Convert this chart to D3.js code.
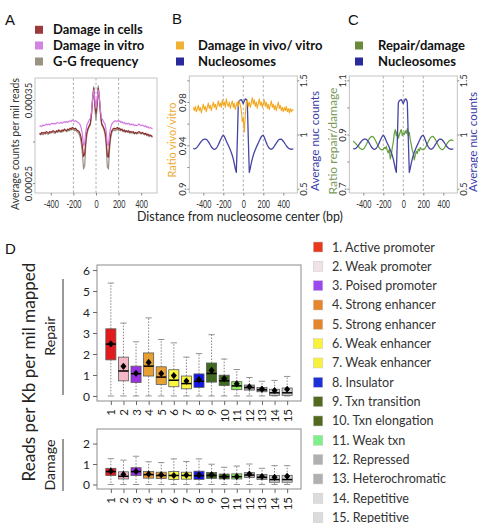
<!DOCTYPE html>
<html>
<head>
<meta charset="utf-8">
<script src="https://cdn.jsdelivr.net/npm/d3@7/dist/d3.min.js"></script>
<style>
html,body{margin:0;padding:0;background:#fff;}
svg{display:block;}
</style>
</head>
<body>
<svg id="fig" width="478" height="523" xmlns="http://www.w3.org/2000/svg"></svg>
<script>
// ---------------- DATA ----------------
const positions = [-500,-490,-480,-470,-460,-450,-440,-430,-420,-410,
  -400,-390,-380,-370,-360,-350,-340,-330,-320,-310,
  -300,-290,-280,-270,-260,-250,-240,-230,-220,-210,
  -200,-190,-180,-170,-160,-150,-140,-130,-120,-110,
  -100,-90,-80,-70,-60,-50,-40,-30,-20,-10,
  0,10,20,30,40,50,60,70,80,90,
  100,110,120,130,140,150,160,170,180,190,
  200,210,220,230,240,250,260,270,280,290,
  300,310,320,330,340,350,360,370,380,390,
  400,410,420,430,440,450,460,470,480,490,500];

const damageInVitro = [0.000318,0.000319,0.000318,0.000320,0.000319,0.000320,0.000321,0.000320,0.000321,0.000320,
  0.000321,0.000322,0.000321,0.000322,0.000321,0.000322,0.000323,0.000322,0.000322,0.000323,
  0.000322,0.000323,0.000324,0.000323,0.000324,0.000323,0.000324,0.000325,0.000324,0.000326,
  0.000325,0.000324,0.000325,0.000324,0.000323,0.000322,0.000320,0.000316,0.000308,0.000295,
  0.000298,0.000312,0.000320,0.000323,0.000326,0.000328,0.000336,0.000352,0.000362,0.000350,
  0.000340,0.000351,0.000362,0.000353,0.000337,0.000328,0.000326,0.000323,0.000321,0.000313,
  0.000297,0.000295,0.000309,0.000317,0.000321,0.000323,0.000324,0.000325,0.000324,0.000325,
  0.000324,0.000325,0.000323,0.000324,0.000322,0.000323,0.000321,0.000322,0.000321,0.000322,
  0.000320,0.000321,0.000320,0.000321,0.000319,0.000320,0.000319,0.000320,0.000321,0.000320,
  0.000319,0.000320,0.000319,0.000318,0.000319,0.000317,0.000318,0.000316,0.000317,0.000316,0.000315];

const damageInCells = [0.000310,0.000309,0.000311,0.000310,0.000311,0.000310,0.000312,0.000311,0.000310,0.000312,
  0.000311,0.000312,0.000313,0.000312,0.000311,0.000313,0.000312,0.000314,0.000313,0.000312,
  0.000314,0.000313,0.000315,0.000314,0.000313,0.000315,0.000314,0.000316,0.000315,0.000317,
  0.000316,0.000315,0.000316,0.000314,0.000313,0.000312,0.000309,0.000304,0.000294,0.000282,
  0.000285,0.000302,0.000312,0.000316,0.000319,0.000322,0.000333,0.000350,0.000364,0.000345,
  0.000334,0.000346,0.000364,0.000351,0.000334,0.000322,0.000319,0.000316,0.000312,0.000302,
  0.000283,0.000281,0.000298,0.000308,0.000313,0.000315,0.000316,0.000315,0.000316,0.000317,
  0.000315,0.000316,0.000314,0.000315,0.000313,0.000314,0.000312,0.000313,0.000312,0.000313,
  0.000311,0.000312,0.000311,0.000312,0.000310,0.000311,0.000310,0.000311,0.000312,0.000311,
  0.000310,0.000311,0.000310,0.000309,0.000310,0.000308,0.000309,0.000307,0.000308,0.000307,0.000306];

const ggFrequency = [0.000309,0.000308,0.000309,0.000308,0.000310,0.000309,0.000310,0.000309,0.000309,0.000311,
  0.000310,0.000311,0.000311,0.000310,0.000310,0.000312,0.000311,0.000312,0.000312,0.000311,
  0.000312,0.000312,0.000313,0.000313,0.000312,0.000313,0.000313,0.000314,0.000314,0.000315,
  0.000314,0.000313,0.000314,0.000312,0.000311,0.000309,0.000305,0.000298,0.000285,0.000267,
  0.000271,0.000296,0.000309,0.000314,0.000318,0.000320,0.000332,0.000352,0.000366,0.000340,
  0.000326,0.000342,0.000367,0.000352,0.000332,0.000320,0.000318,0.000314,0.000309,0.000296,
  0.000270,0.000267,0.000290,0.000304,0.000311,0.000313,0.000314,0.000313,0.000314,0.000315,
  0.000313,0.000314,0.000313,0.000313,0.000312,0.000312,0.000311,0.000312,0.000311,0.000311,
  0.000310,0.000311,0.000310,0.000310,0.000309,0.000310,0.000309,0.000310,0.000310,0.000310,
  0.000309,0.000310,0.000309,0.000308,0.000309,0.000307,0.000308,0.000306,0.000307,0.000306,0.000305];

const vivoVitroRatio = [0.975,0.972,0.976,0.971,0.974,0.977,0.972,0.975,0.970,0.974,
  0.978,0.973,0.976,0.971,0.975,0.979,0.974,0.977,0.972,0.976,
  0.980,0.975,0.978,0.973,0.977,0.981,0.976,0.979,0.975,0.982,
  0.977,0.980,0.975,0.983,0.978,0.976,0.980,0.974,0.978,0.981,
  0.975,0.979,0.973,0.977,0.980,0.976,0.981,0.977,0.972,0.962,
  0.965,0.952,0.968,0.980,0.982,0.976,0.980,0.975,0.979,0.984,
  0.978,0.982,0.976,0.980,0.974,0.979,0.983,0.977,0.980,0.975,
  0.979,0.982,0.976,0.980,0.974,0.978,0.973,0.977,0.981,0.975,
  0.978,0.973,0.977,0.972,0.976,0.980,0.974,0.977,0.972,0.975,
  0.971,0.975,0.972,0.976,0.971,0.974,0.970,0.974,0.971,0.973,0.972];

const nucleosomeCounts = [0.872,0.868,0.870,0.876,0.886,0.898,0.911,0.924,0.936,0.946,
  0.953,0.957,0.958,0.955,0.947,0.935,0.920,0.903,0.887,0.875,
  0.867,0.863,0.865,0.873,0.887,0.905,0.925,0.946,0.966,0.984,
  0.994,0.982,0.962,0.940,0.920,0.900,0.880,0.858,0.834,0.806,
  0.772,0.730,0.685,0.650,0.930,1.290,1.312,1.318,1.322,1.305,
  1.285,1.310,1.328,1.325,1.300,0.960,0.650,0.690,0.735,0.775,
  0.808,0.836,0.860,0.882,0.902,0.922,0.942,0.962,0.980,0.990,
  0.993,0.975,0.950,0.925,0.903,0.886,0.873,0.866,0.864,0.869,
  0.878,0.891,0.906,0.920,0.935,0.947,0.955,0.958,0.956,0.949,
  0.938,0.925,0.910,0.896,0.884,0.875,0.869,0.865,0.864,0.865,0.867];

const repairDamageRatio = [0.876,0.872,0.868,0.864,0.860,0.856,0.852,0.848,0.846,0.845,
  0.846,0.850,0.856,0.863,0.871,0.878,0.885,0.889,0.892,0.893,
  0.891,0.886,0.879,0.871,0.863,0.856,0.850,0.846,0.844,0.843,
  0.846,0.852,0.848,0.856,0.840,0.832,0.845,0.810,0.826,0.852,
  0.872,0.905,0.918,0.895,0.912,0.886,0.898,0.910,0.918,0.896,
  0.905,0.900,0.914,0.904,0.922,0.896,0.908,0.880,0.862,0.842,
  0.830,0.806,0.824,0.838,0.830,0.846,0.840,0.852,0.846,0.845,
  0.844,0.846,0.851,0.858,0.866,0.874,0.881,0.887,0.891,0.893,
  0.892,0.888,0.882,0.875,0.867,0.860,0.853,0.848,0.845,0.844,
  0.846,0.850,0.856,0.862,0.868,0.873,0.877,0.879,0.880,0.879,0.877];

const xTickValues = [-400, -200, 0, 200, 400];
const guideLines = [-200, 0, 200];

const stateIds = [1,2,3,4,5,6,7,8,9,10,11,12,13,14,15];
const stateNames = ["1. Active promoter","2. Weak promoter","3. Poised promoter","4. Strong enhancer",
  "5. Strong enhancer","6. Weak enhancer","7. Weak enhancer","8. Insulator","9. Txn transition",
  "10. Txn elongation","11. Weak txn","12. Repressed","13. Heterochromatic","14. Repetitive","15. Repetitive"];

const repairLower  = [0,0,0,0,0,0,0,0,0,0,0,0,0,0,0];
const repairQ1     = [1.72,0.72,0.64,0.95,0.55,0.44,0.34,0.41,0.66,0.50,0.30,0.28,0.20,0.03,0.03];
const repairMedian = [2.47,1.19,1.06,1.42,0.90,0.75,0.59,0.70,1.07,0.72,0.48,0.40,0.29,0.15,0.15];
const repairQ3     = [3.20,1.85,1.42,2.05,1.39,1.25,0.95,1.05,1.57,0.99,0.68,0.52,0.40,0.32,0.38];
const repairUpper  = [5.38,3.47,2.58,3.72,2.69,2.53,1.85,2.02,2.92,1.76,1.26,0.88,0.70,0.74,0.93];
const repairMean   = [2.48,1.41,1.08,1.60,1.07,0.97,0.71,0.78,1.22,0.83,0.58,0.44,0.33,0.26,0.32];

const damageLower  = [0,0,0,0,0,0,0,0,0,0,0,0,0,0,0];
const damageQ1     = [0.44,0.27,0.44,0.31,0.29,0.24,0.26,0.25,0.30,0.27,0.27,0.34,0.25,0.11,0.11];
const damageMedian = [0.63,0.40,0.63,0.48,0.44,0.44,0.44,0.43,0.44,0.38,0.38,0.46,0.35,0.24,0.24];
const damageQ3     = [0.79,0.62,0.82,0.64,0.60,0.63,0.60,0.65,0.59,0.51,0.52,0.58,0.49,0.44,0.45];
const damageUpper  = [1.26,1.19,1.38,1.11,1.07,1.25,1.12,1.25,0.99,0.84,0.90,1.00,0.79,0.92,0.92];
const damageMean   = [0.65,0.49,0.64,0.51,0.47,0.44,0.46,0.46,0.47,0.39,0.39,0.51,0.39,0.35,0.40];

const repairTicks = [0,1,2,3,4,5,6];
const damageTicks = [0,1,2];

// ---------------- STYLE ----------------
const boxColors = ['#e31a1c','#f4b8c8','#9a32e2','#e9a033','#e9a033','#fbf741','#fbf741','#1515e8',
  '#3f6b1e','#3f6b1e','#8ff05c','#a9a9a9','#a9a9a9','#d2d2d2','#d2d2d2'];
const legendColors = ['#e8391c','#f0e2e5','#9b48f0','#e5862c','#e5862c','#f8f23e','#f8f23e','#1c30d8',
  '#52691e','#52691e','#7ef08a','#b0b0b0','#b0b0b0','#dcdcdc','#dcdcdc'];

const LATO = "Lato, 'Open Sans', 'Liberation Sans', sans-serif";
const ARIAL = "'Liberation Sans', Arial, Helvetica, sans-serif";
const svg = d3.select('#fig');

function fitWidth(sel, target) {
  const w = sel.node().getComputedTextLength();
  const fs = parseFloat(sel.attr('font-size'));
  const nfs = fs * target / w;
  sel.attr('font-size', nfs.toFixed(2));
  return nfs;
}
function rotatedLabel(text, cx, cy, size, color, target) {
  const t = svg.append('text').attr('transform', `translate(${cx},${cy}) rotate(-90)`)
    .attr('text-anchor', 'middle').attr('dy', '0.35em')
    .attr('font-family', LATO).attr('font-size', size).attr('fill', color).text(text);
  if (target) fitWidth(t, target);
  return t;
}

// ---------------- PROFILE PANELS (A, B, C) ----------------
function profilePanel(p) {
  const g = svg.append('g');
  const x = d3.scaleLinear().domain([-540, 540]).range([p.left, p.right]);
  const yL = d3.scaleLinear().domain(p.leftDomain).range([p.bottom, p.top]);
  const yR = p.rightDomain ? d3.scaleLinear().domain(p.rightDomain).range([p.bottom, p.top]) : null;

  g.selectAll('line.guide').data(guideLines).join('line').attr('class', 'guide')
    .attr('x1', d => x(d)).attr('x2', d => x(d)).attr('y1', p.top).attr('y2', p.bottom)
    .attr('stroke', '#9a9a9a').attr('stroke-width', 0.8).attr('stroke-dasharray', '2.5,2');

  p.series.forEach(s => {
    const ys = s.right ? yR : yL;
    const line = d3.line().x((d, i) => x(positions[i])).y(d => ys(d));
    g.append('path').datum(s.values).attr('d', line).attr('fill', 'none')
      .attr('stroke', s.color).attr('stroke-width', s.width).attr('stroke-linejoin', 'round');
  });

  g.append('rect').attr('x', p.left).attr('y', p.top)
    .attr('width', p.right - p.left).attr('height', p.bottom - p.top)
    .attr('fill', 'none').attr('stroke', '#bdbdbd').attr('stroke-width', 0.9);

  const xa = g.append('g').attr('transform', `translate(0,${p.bottom})`)
    .call(d3.axisBottom(x).tickValues(xTickValues).tickSize(2.5).tickFormat(d => String(d)));
  xa.select('.domain').remove();
  xa.selectAll('line').attr('stroke', '#8a8a8a');
  xa.selectAll('text').attr('y', 15).attr('dy', 0).attr('font-family', LATO).attr('font-size', 10.5)
    .attr('fill', '#333').attr('transform', 'scale(0.68,1)');

  const la = g.append('g').attr('transform', `translate(${p.left},0)`)
    .call(d3.axisLeft(yL).tickValues(p.leftTicks).tickSize(2)
      .tickFormat(d => p.leftLabels[p.leftTicks.indexOf(d)]));
  la.select('.domain').remove();
  la.selectAll('line').attr('stroke', '#8a8a8a');
  la.selectAll('text').attr('transform', 'rotate(-90)').attr('x', 0).attr('y', -3).attr('dy', 0)
    .attr('text-anchor', 'middle').attr('font-family', LATO).attr('font-size', 9.5).attr('fill', '#333');

  if (yR) {
    const ra = g.append('g').attr('transform', `translate(${p.right},0)`)
      .call(d3.axisRight(yR).tickValues(p.rightTicks).tickSize(2)
        .tickFormat(d => p.rightLabels[p.rightTicks.indexOf(d)]));
    ra.select('.domain').remove();
    ra.selectAll('line').attr('stroke', '#8a8a8a');
    ra.selectAll('text').attr('transform', 'rotate(-90)').attr('x', 0).attr('y', 10).attr('dy', 0)
      .attr('text-anchor', 'middle').attr('font-family', LATO).attr('font-size', 9.5).attr('fill', '#333');
  }
}

const cCells = '#8f2d2d', cVitro = '#d47ce2', cGG = '#978f83';
const cVivo = '#f2a922', cNuc = '#4545a5', cRep = '#64a03a';

profilePanel({
  left: 35, right: 157, top: 78, bottom: 193,
  leftDomain: [0.000238, 0.0003765],
  leftTicks: [0.00025, 0.0003, 0.00035], leftLabels: ['0.00025', '', '0.00035'],
  series: [
    { values: ggFrequency, color: cGG, width: 1.2 },
    { values: damageInCells, color: cCells, width: 1.2 },
    { values: damageInVitro, color: cVitro, width: 1.2 }
  ]
});
profilePanel({
  left: 189.3, right: 297.3, top: 76, bottom: 193,
  leftDomain: [0.896, 1.004],
  leftTicks: [0.9, 0.92, 0.94, 0.96, 0.98, 1.0], leftLabels: ['0.9', '', '0.94', '', '0.98', ''],
  rightDomain: [0.46, 1.54], rightTicks: [0.5, 1, 1.5], rightLabels: ['0.5', '1', '1.5'],
  series: [
    { values: nucleosomeCounts, color: cNuc, width: 1.3, right: true },
    { values: vivoVitroRatio, color: cVivo, width: 1.1 }
  ]
});
profilePanel({
  left: 349.3, right: 457.3, top: 76, bottom: 193,
  leftDomain: [0.684, 1.116],
  leftTicks: [0.7, 0.8, 0.9, 1.0, 1.1], leftLabels: ['0.7', '', '0.9', '', '1.1'],
  rightDomain: [0.46, 1.54], rightTicks: [0.5, 1, 1.5], rightLabels: ['0.5', '1', '1.5'],
  series: [
    { values: repairDamageRatio, color: cRep, width: 1.2 },
    { values: nucleosomeCounts, color: cNuc, width: 1.3, right: true }
  ]
});

// axis titles (top)
rotatedLabel('Average counts per mil reads', 15, 144, 10, '#333', 132);
rotatedLabel('Ratio vivo/vitro', 172, 140, 10, '#eea92c', 75);
rotatedLabel('Average nuc counts', 315, 141, 11, '#3c3ca8', 100);
rotatedLabel('Ratio repair/damage', 333, 141, 11, '#7a9a5a', 107);
rotatedLabel('Average nuc counts', 472.5, 142, 11, '#3c3ca8', 100);

const xt = svg.append('text').attr('x', 240).attr('y', 221).attr('text-anchor', 'middle')
  .attr('font-family', LATO).attr('font-size', 12).attr('fill', '#222')
  .text('Distance from nucleosome center (bp)');
fitWidth(xt, 206);

// legends top
const topLegends = [
  { x: 35, tx: 53, fit: 98, rows: [['Damage in cells', '#9c3a3a', 34.3], ['Damage in vitro', '#d384e3', 50], ['G-G frequency', '#9c9282', 66]] },
  { x: 176, tx: 198, fit: 148, rows: [['Damage in vivo/ vitro', '#f0b232', 50], ['Nucleosomes', '#2a2a9c', 66]] },
  { x: 355, tx: 378, fit: null, rows: [['Repair/damage', '#6b8a3a', 50], ['Nucleosomes', '#2a2a9c', 66]] }
];
let lastLegSize = 12;
topLegends.forEach(L => {
  let size = lastLegSize;
  if (L.fit) {
    const ref = svg.append('text').attr('font-family', LATO).attr('font-weight', 700)
      .attr('font-size', 13).text(L.rows[0][0]);
    size = Math.min(13, fitWidth(ref, L.fit));
    ref.remove();
    lastLegSize = size;
  }
  L.rows.forEach(r => {
    svg.append('rect').attr('x', L.x).attr('y', r[2] - 8.5).attr('width', 8).attr('height', 8).attr('fill', r[1]);
    svg.append('text').attr('x', L.tx).attr('y', r[2]).attr('font-family', LATO).attr('font-weight', 700)
      .attr('font-size', size.toFixed(2)).attr('fill', '#111').text(r[0]);
  });
});

// panel letters
[['A', 5, 24.5], ['B', 172, 24], ['C', 348, 25], ['D', 5, 254]].forEach(l => {
  svg.append('text').attr('x', l[1]).attr('y', l[2]).attr('font-family', ARIAL)
    .attr('font-size', 15).attr('fill', '#111').text(l[0]);
});

// ---------------- BOX PANELS (D) ----------------
function boxPanel(p) {
  const g = svg.append('g');
  const x = d3.scaleLinear().domain([-0.1, 16.1]).range([97, 301]);
  const y = d3.scaleLinear().domain(p.domain).range([p.bottom, p.top]);
  const bw = x(0.4) - x(0);
  const cw = x(0.25) - x(0);

  g.append('rect').attr('x', 97).attr('y', p.top).attr('width', 204).attr('height', p.bottom - p.top)
    .attr('fill', 'none').attr('stroke', '#8c8c8c').attr('stroke-width', 1);

  const ya = g.append('g').attr('transform', 'translate(97,0)')
    .call(d3.axisLeft(y).tickValues(p.ticks).tickSize(4).tickFormat(d => String(d)));
  ya.select('.domain').remove();
  ya.selectAll('line').attr('stroke', '#666');
  ya.selectAll('text').attr('x', -7).attr('dy', '0.36em').attr('font-family', LATO)
    .attr('font-size', 12).attr('fill', '#222');

  const xa = g.append('g').attr('transform', `translate(0,${p.bottom})`)
    .call(d3.axisBottom(x).tickValues(stateIds).tickSize(4).tickFormat(d => String(d)));
  xa.select('.domain').remove();
  xa.selectAll('line').attr('stroke', '#666');
  xa.selectAll('text').attr('transform', 'rotate(-90)').attr('x', -8).attr('y', 0).attr('dy', '0.35em')
    .attr('text-anchor', 'end').attr('font-family', LATO).attr('font-size', 11.5).attr('fill', '#222');

  const items = stateIds.map((id, i) => ({ id, i }));
  const bx = g.selectAll('g.box').data(items).join('g').attr('class', 'box');
  bx.append('line').attr('x1', d => x(d.id)).attr('x2', d => x(d.id))
    .attr('y1', d => y(p.q3[d.i])).attr('y2', d => y(p.upper[d.i]))
    .attr('stroke', '#666').attr('stroke-width', 0.8).attr('stroke-dasharray', '1.5,1.5');
  bx.append('line').attr('x1', d => x(d.id)).attr('x2', d => x(d.id))
    .attr('y1', d => y(p.q1[d.i])).attr('y2', d => y(p.lower[d.i]))
    .attr('stroke', '#666').attr('stroke-width', 0.8).attr('stroke-dasharray', '1.5,1.5');
  bx.append('line').attr('x1', d => x(d.id) - cw).attr('x2', d => x(d.id) + cw)
    .attr('y1', d => y(p.upper[d.i])).attr('y2', d => y(p.upper[d.i]))
    .attr('stroke', '#777').attr('stroke-width', 0.8);
  bx.append('line').attr('x1', d => x(d.id) - cw).attr('x2', d => x(d.id) + cw)
    .attr('y1', d => y(p.lower[d.i])).attr('y2', d => y(p.lower[d.i]))
    .attr('stroke', '#777').attr('stroke-width', 0.8);
  bx.append('rect').attr('x', d => x(d.id) - bw).attr('width', 2 * bw)
    .attr('y', d => y(p.q3[d.i])).attr('height', d => y(p.q1[d.i]) - y(p.q3[d.i]))
    .attr('fill', d => boxColors[d.i]).attr('stroke', '#5a5a5a').attr('stroke-width', 0.8);
  bx.append('line').attr('x1', d => x(d.id) - bw).attr('x2', d => x(d.id) + bw)
    .attr('y1', d => y(p.median[d.i])).attr('y2', d => y(p.median[d.i]))
    .attr('stroke', '#000').attr('stroke-width', 1.5);
  bx.append('path')
    .attr('d', d => { const cx = x(d.id), cy = y(p.mean[d.i]);
      return `M${cx},${cy - 3.6}L${cx + 3},${cy}L${cx},${cy + 3.6}L${cx - 3},${cy}Z`; })
    .attr('fill', '#000');
}

boxPanel({ top: 265, bottom: 401, domain: [-0.24, 6.24], ticks: repairTicks,
  lower: repairLower, q1: repairQ1, median: repairMedian, q3: repairQ3, upper: repairUpper, mean: repairMean });
boxPanel({ top: 429, bottom: 489, domain: [-0.22, 2.71], ticks: damageTicks,
  lower: damageLower, q1: damageQ1, median: damageMedian, q3: damageQ3, upper: damageUpper, mean: damageMean });

// D labels
rotatedLabel('Reads per Kb per mil mapped', 29, 372, 17, '#222', 219);
const dmg = rotatedLabel('Damage', 50, 465, 13, '#222', 51);
rotatedLabel('Repair', 50, 336, parseFloat(dmg.attr('font-size')), '#222');
svg.append('line').attr('x1', 63).attr('x2', 63).attr('y1', 279).attr('y2', 395).attr('stroke', '#555').attr('stroke-width', 1.2);
svg.append('line').attr('x1', 63).attr('x2', 63).attr('y1', 439).attr('y2', 491).attr('stroke', '#555').attr('stroke-width', 1.2);

// D legend
const refD = svg.append('text').attr('font-family', LATO).attr('font-size', 13).text(stateNames[0]);
const dSize = fitWidth(refD, 103);
refD.remove();
stateNames.forEach((name, i) => {
  svg.append('rect').attr('x', 313.3).attr('y', 242 + i * 19.33).attr('width', 9.5).attr('height', 10)
    .attr('fill', legendColors[i]).attr('stroke', '#c8c8c8').attr('stroke-width', 0.5);
  svg.append('text').attr('x', 332).attr('y', 251.5 + i * 19.33).attr('font-family', LATO)
    .attr('font-size', dSize.toFixed(2)).attr('fill', '#333').text(name);
});
</script>
</body>
</html>
